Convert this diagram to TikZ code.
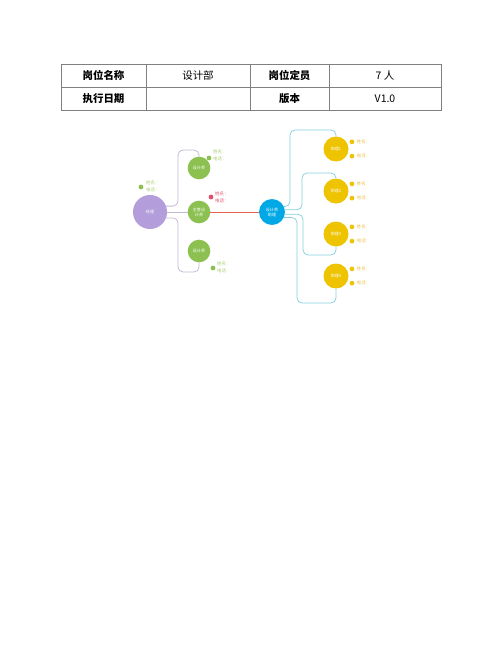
\documentclass[tikz,border=0pt]{standalone}
\usepackage{fontspec}
\setmainfont{Noto Sans CJK SC}
\usetikzlibrary{positioning}

\definecolor{mgrpurple}{HTML}{B39DDB}
\definecolor{desgreen}{HTML}{8CC152}
\definecolor{asblue}{HTML}{00A9E6}
\definecolor{asyellow}{HTML}{EEC300}
\definecolor{leftgray}{HTML}{C3B7D8}
\definecolor{midred}{HTML}{E8604C}
\definecolor{rightcyan}{HTML}{86D1DF}
\definecolor{greentxt}{HTML}{A8CC70}
\definecolor{redtxt}{HTML}{E0506A}
\definecolor{yellowtxt}{HTML}{E9C24A}

\begin{document}
\begin{tikzpicture}[x=0.042cm, y=-0.042cm,
      cell/.style={inner sep=0pt, font=\fontsize{12.5}{14}\selectfont},
      head/.style={cell, font=\fontsize{12.5}{14}\selectfont\bfseries},
      bubble/.style={circle, inner sep=0pt, text=white, align=center, font=\fontsize{4.8}{6}\selectfont},
      dot/.style={circle, inner sep=0pt, minimum size=0.2cm},
      info/.style={inner sep=0pt, align=left, anchor=west, font=\fontsize{5.3}{8}\selectfont},
      leftline/.style={draw=leftgray, line width=0.9pt, rounded corners=6pt},
      rightline/.style={draw=rightcyan, line width=0.9pt, rounded corners=6pt},
      ]
      \useasboundingbox (0,0) rectangle (500,647);

      % table
      \draw[gray, line width=0.6pt] (61,64) rectangle (441,110);
      \draw[gray, line width=0.6pt] (61,87) -- (441,87);
      \foreach \cx in {146,250,329}
        \draw[gray, line width=0.6pt] (\cx,64) -- (\cx,110);
      \node[head] (t11) at (103.5,75.5) {岗位名称};
      \node[cell] (t12) at (198,75.5) {设计部};
      \node[head] (t13) at (289.5,75.5) {岗位定员};
      \node[cell] (t14) at (385,75.5) {7 人};
      \node[head] (t21) at (103.5,98.5) {执行日期};
      \node[head] (t23) at (289.5,98.5) {版本};
      \node[cell] (t24) at (385,98.5) {V1.0};

      % bubbles
      \node[bubble, fill=mgrpurple, minimum size=1.43cm] (jl) at (150,212) {经理};
      \node[bubble, fill=desgreen, minimum size=0.95cm] (d1) at (199,168) {设计师};
      \node[bubble, fill=desgreen, minimum size=0.95cm] (d2) at (199,212) {主管设\\计师};
      \node[bubble, fill=desgreen, minimum size=0.95cm] (d3) at (199,251) {设计师};
      \node[bubble, fill=asblue, minimum size=1.09cm] (b) at (272,212) {设计师\\助理};
      \foreach \i/\yy in {1/149,2/191,3/234,4/276}
        \node[bubble, fill=asyellow, minimum size=1.05cm] (a\i) at (336,\yy) {助理\i};

      % connectors
      \draw[leftline] (jl.20) -| (178,150) -| (d1.north);
      \draw[leftline] (jl.-20) -| (178,272) -| (d3.south);
      \draw[leftline] (jl.east) -- (d2.west);
      \draw[draw=midred, line width=0.9pt] (d2.east) -- (b.west);
      \draw[rightline] (b.25) -| (290,130) -| (a1.north);
      \draw[rightline] (b.10) -| (302,173) -| (a2.north);
      \draw[rightline] (b.-10) -| (303,255) -| (a3.south);
      \draw[rightline] (b.-25) -| (297,303) -| (a4.south);

      % name / phone labels
      \node[dot, fill=desgreen] (jldot) at (141,187) {};
      \node[info, text=greentxt] (jlinfo) at (146,186) {姓名：\\电话：};
      \node[dot, fill=desgreen] (d1dot) at (209,158) {};
      \node[info, text=greentxt] (d1info) at (213,155.5) {姓名：\\电话：};
      \node[dot, fill=redtxt] (d2dot) at (211,197) {};
      \node[info, text=redtxt] (d2info) at (215,197) {姓名：\\电话：};
      \node[dot, fill=desgreen] (d3dot) at (213,268) {};
      \node[info, text=greentxt] (d3info) at (217,267.5) {姓名：\\电话：};
      \foreach \i in {1,...,4} {
        \node[dot, fill=asyellow] (n\i dot) at ([xshift=0.67cm, yshift=0.3cm]a\i.center) {};
        \node[info, text=yellowtxt] (n\i) at ([xshift=0.2cm]n\i dot.center) {姓名：};
        \node[dot, fill=asyellow] (p\i dot) at ([xshift=0.67cm, yshift=-0.3cm]a\i.center) {};
        \node[info, text=yellowtxt] (p\i) at ([xshift=0.2cm]p\i dot.center) {电话：};
      }
\end{tikzpicture}
\end{document}
